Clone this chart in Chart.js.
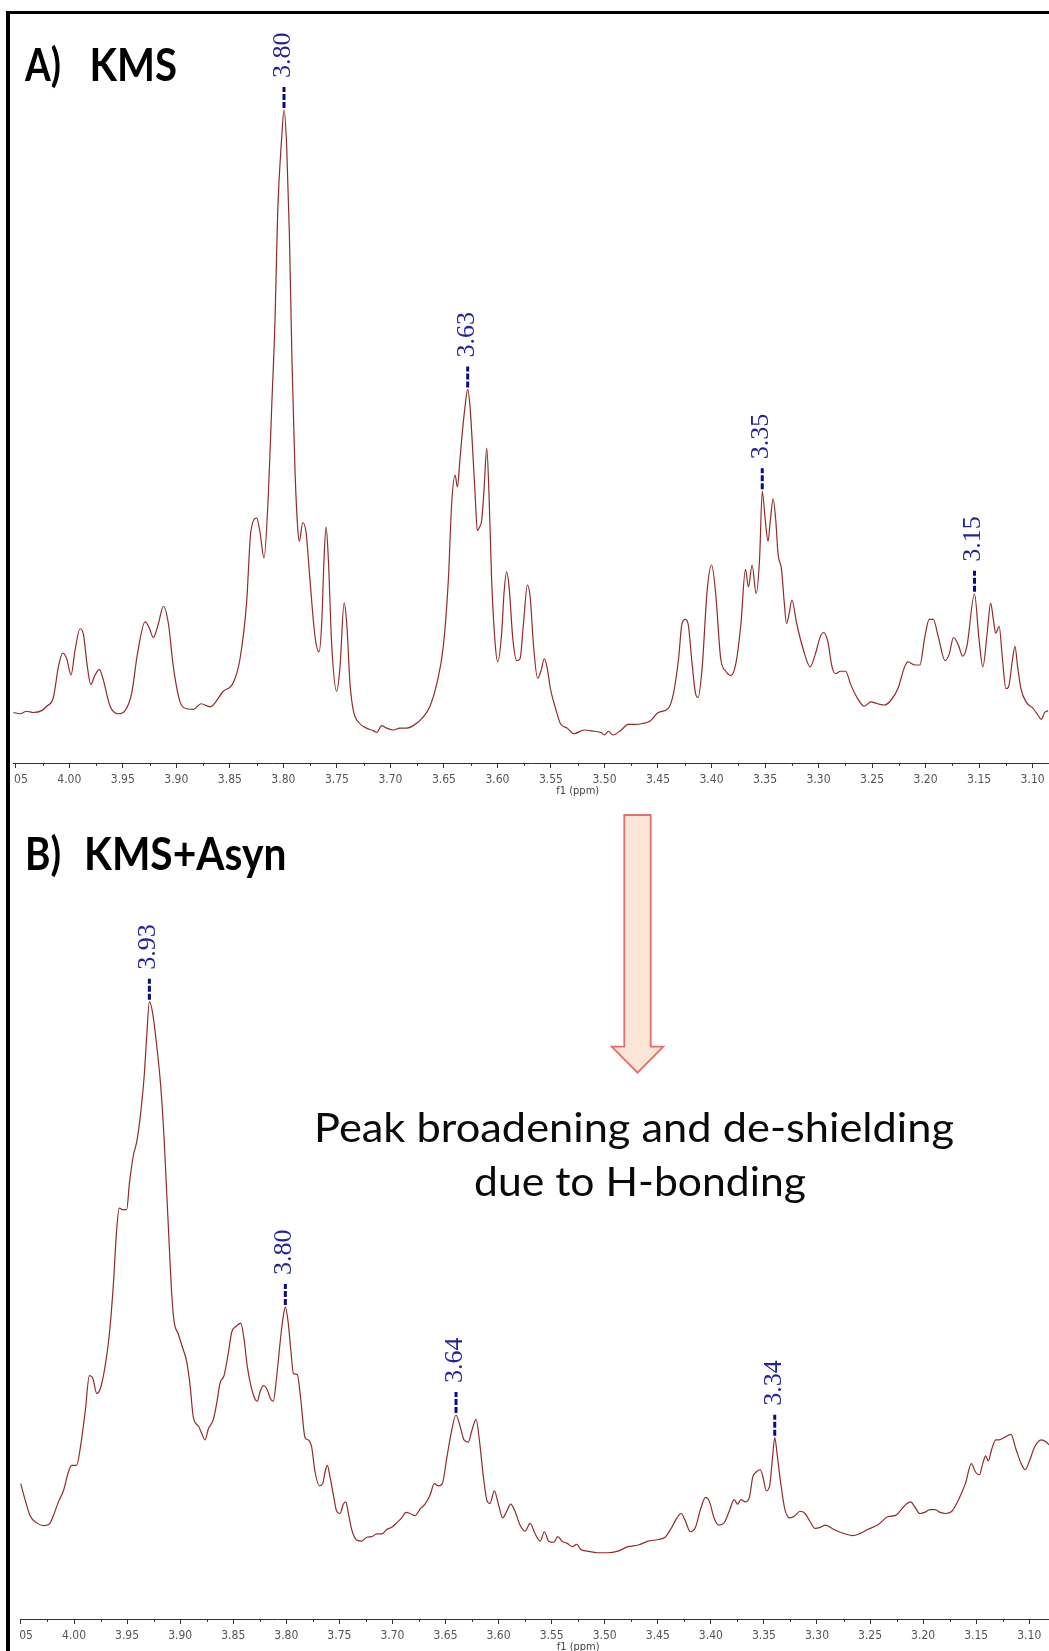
<!DOCTYPE html>
<html><head><meta charset="utf-8">
<script src="https://cdn.jsdelivr.net/npm/chart.js@4.4.0/dist/chart.umd.min.js"></script>
<style>
html,body{margin:0;padding:0;width:1049px;height:1651px;overflow:hidden;background:#fff;}
#frame{position:absolute;left:6px;top:11px;width:1100px;height:1700px;border-top:3px solid #000;border-left:4px solid #000;box-sizing:border-box;}
#cA{position:absolute;left:13px;top:13px;}
#cB{position:absolute;left:20px;top:800px;}
</style></head><body>
<div id="frame"></div>
<canvas id="cA" width="1036" height="790"></canvas>
<canvas id="cB" width="1029" height="859"></canvas>
<script>
// ---------- data (chemical shift in ppm, relative intensity) ----------
const ppmA=[4.0522,4.0460,4.0398,4.0336,4.0258,4.0211,4.0149,4.0102,4.0062,4.0024,3.9984,3.9946,3.9900,3.9868,3.9831,3.9800,3.9759,3.9719,3.9682,3.9619,3.9542,3.9479,3.9417,3.9364,3.9292,3.9252,3.9215,3.9168,3.9121,3.9074,3.9028,3.8965,3.8903,3.8841,3.8769,3.8685,3.8561,3.8467,3.8405,3.8343,3.8305,3.8249,3.8218,3.8181,3.8140,3.8109,3.8078,3.8053,3.8016,3.7994,3.7969,3.7944,3.7919,3.7891,3.7866,3.7851,3.7819,3.7788,3.7751,3.7704,3.7667,3.7642,3.7620,3.7601,3.7580,3.7548,3.7502,3.7471,3.7433,3.7408,3.7377,3.7346,3.7284,3.7222,3.7159,3.7128,3.7081,3.7035,3.6972,3.6910,3.6848,3.6786,3.6692,3.6630,3.6568,3.6505,3.6459,3.6427,3.6396,3.6374,3.6350,3.6325,3.6303,3.6278,3.6256,3.6231,3.6209,3.6188,3.6169,3.6147,3.6125,3.6100,3.6079,3.6054,3.6023,3.5998,3.5960,3.5939,3.5914,3.5889,3.5858,3.5820,3.5789,3.5757,3.5720,3.5694,3.5663,3.5625,3.5594,3.5562,3.5537,3.5505,3.5458,3.5411,3.5348,3.5285,3.5190,3.5096,3.5033,3.5001,3.4963,3.4922,3.4843,3.4780,3.4717,3.4654,3.4576,3.4497,3.4402,3.4355,3.4308,3.4276,3.4245,3.4219,3.4182,3.4150,3.4125,3.4087,3.4040,3.3999,3.3961,3.3914,3.3866,3.3819,3.3772,3.3725,3.3683,3.3655,3.3621,3.3583,3.3551,3.3526,3.3498,3.3472,3.3450,3.3425,3.3400,3.3378,3.3346,3.3321,3.3299,3.3274,3.3249,3.3204,3.3141,3.3078,3.3031,3.2984,3.2952,3.2914,3.2874,3.2842,3.2795,3.2747,3.2700,3.2637,3.2574,3.2511,3.2448,3.2385,3.2322,3.2259,3.2196,3.2164,3.2101,3.2054,3.2007,3.1966,3.1928,3.1881,3.1818,3.1780,3.1739,3.1692,3.1654,3.1613,3.1543,3.1503,3.1465,3.1424,3.1392,3.1367,3.1345,3.1313,3.1282,3.1250,3.1225,3.1187,3.1165,3.1140,3.1109,3.1061,3.0998,3.0951,3.0919,3.0888,3.0856];
const intA=[3.6,3.4,3.8,3.6,3.9,4.6,6.0,10.9,13.1,12.2,9.6,13.6,17.0,16.1,10.9,8.1,9.6,10.5,8.8,4.6,3.4,3.9,6.7,12.9,18.1,17.1,15.6,17.8,20.6,17.8,10.9,5.3,4.2,4.1,5.0,4.5,7.0,8.4,12.2,21.3,32.4,34.7,32.4,28.3,38.6,52.5,66.4,83.7,95.5,100.0,94.1,80.2,59.4,42.1,33.1,31.0,34.0,32.4,24.7,15.7,13.3,17.8,28.2,33.3,28.2,14.3,7.0,10.9,21.1,17.8,8.1,3.9,1.8,1.1,0.7,0.4,1.5,1.1,0.8,1.1,1.1,1.5,2.9,4.6,8.1,14.3,24.7,37.2,41.6,39.7,44.2,49.0,52.5,55.3,52.5,45.5,38.6,32.7,33.2,34.4,39.3,45.9,38.6,24.7,15.0,11.7,16.4,22.6,26.1,23.3,15.7,11.9,12.2,17.8,24.0,22.0,14.3,9.1,10.2,12.2,10.9,7.4,4.3,1.8,1.1,0.2,0.8,0.6,0.4,0.0,0.6,0.0,0.8,1.7,1.7,1.8,2.2,3.6,4.3,6.7,12.2,17.8,18.5,17.8,11.5,6.7,6.0,10.9,23.3,27.2,22.6,12.2,10.2,9.5,11.5,17.8,26.5,23.7,27.2,22.6,28.2,39.0,34.4,31.0,34.4,37.8,34.4,28.9,26.5,21.3,17.8,19.5,21.6,17.8,13.6,10.9,12.9,15.7,16.4,15.0,10.9,9.8,10.2,10.2,8.1,5.9,4.6,5.3,5.0,4.8,5.6,7.4,10.9,11.7,11.2,11.2,15.7,18.5,18.5,15.7,11.9,12.9,15.6,14.3,12.6,14.3,22.6,15.7,10.9,16.4,21.1,18.5,16.3,17.4,12.2,7.4,7.7,12.2,14.2,10.9,7.4,5.3,4.3,3.2,2.5,3.6,3.9];

const ppmB=[4.0502,4.0461,4.0414,4.0352,4.0289,4.0232,4.0195,4.0147,4.0100,4.0053,4.0022,3.9975,3.9943,3.9896,3.9855,3.9824,3.9786,3.9755,3.9708,3.9667,3.9629,3.9598,3.9573,3.9541,3.9504,3.9478,3.9441,3.9409,3.9378,3.9340,3.9315,3.9290,3.9259,3.9221,3.9183,3.9152,3.9127,3.9102,3.9080,3.9058,3.9017,3.8976,3.8938,3.8907,3.8876,3.8828,3.8797,3.8766,3.8734,3.8687,3.8656,3.8624,3.8587,3.8546,3.8514,3.8474,3.8429,3.8398,3.8367,3.8335,3.8295,3.8273,3.8247,3.8216,3.8185,3.8147,3.8122,3.8090,3.8050,3.8028,3.8009,3.7984,3.7959,3.7933,3.7896,3.7864,3.7823,3.7792,3.7761,3.7729,3.7688,3.7657,3.7635,3.7613,3.7588,3.7556,3.7525,3.7494,3.7462,3.7440,3.7415,3.7384,3.7337,3.7290,3.7242,3.7195,3.7148,3.7101,3.7054,3.7007,3.6960,3.6913,3.6872,3.6834,3.6787,3.6740,3.6693,3.6646,3.6605,3.6567,3.6530,3.6489,3.6451,3.6401,3.6363,3.6326,3.6285,3.6253,3.6212,3.6181,3.6143,3.6112,3.6081,3.6040,3.6002,3.5961,3.5923,3.5886,3.5845,3.5798,3.5750,3.5703,3.5655,3.5607,3.5569,3.5528,3.5480,3.5442,3.5401,3.5353,3.5305,3.5264,3.5226,3.5162,3.5067,3.4972,3.4876,3.4781,3.4685,3.4590,3.4495,3.4431,3.4368,3.4320,3.4279,3.4241,3.4193,3.4145,3.4097,3.4050,3.4012,3.3970,3.3923,3.3875,3.3827,3.3780,3.3748,3.3716,3.3675,3.3637,3.3605,3.3573,3.3535,3.3509,3.3478,3.3446,3.3420,3.3398,3.3376,3.3344,3.3303,3.3255,3.3207,3.3160,3.3112,3.3064,3.3017,3.2969,3.2921,3.2858,3.2794,3.2731,3.2667,3.2604,3.2524,3.2429,3.2333,3.2254,3.2206,3.2158,3.2117,3.2079,3.2031,3.1984,3.1936,3.1888,3.1841,3.1787,3.1729,3.1666,3.1602,3.1545,3.1507,3.1469,3.1437,3.1411,3.1386,3.1354,3.1316,3.1284,3.1237,3.1173,3.1125,3.1078,3.1040,3.0998,3.0950,3.0887,3.0840,3.0814];
const intB=[12.9,10.0,7.1,5.8,5.3,5.6,7.1,9.6,11.6,15.0,16.2,16.2,19.1,25.7,32.4,32.0,29.2,29.9,34.0,39.9,49.0,58.9,62.7,62.4,62.4,67.2,72.2,74.7,78.9,86.3,93.8,100.0,97.9,92.1,84.7,75.5,65.6,55.6,47.3,42.3,39.9,37.4,34.9,30.7,24.9,23.3,22.0,20.8,22.8,24.5,27.4,31.1,32.4,36.5,40.3,41.3,41.9,39.0,34.0,30.7,28.2,27.8,29.5,30.6,30.1,28.2,27.8,32.4,39.9,43.2,44.8,42.3,37.4,32.8,32.6,28.2,21.2,20.8,19.5,15.0,12.5,12.9,15.0,16.2,14.1,10.8,7.9,7.5,9.2,9.6,7.5,4.6,2.7,2.5,3.2,3.3,3.8,3.8,4.6,5.0,5.8,6.7,7.7,7.5,7.1,8.3,9.2,10.8,12.9,12.5,12.9,17.4,21.6,25.3,23.3,20.8,20.4,22.4,24.5,20.8,14.1,10.0,9.3,11.6,9.2,6.7,7.9,9.2,7.9,5.4,4.3,5.7,3.8,2.5,4.2,2.5,2.3,3.3,2.5,2.1,1.5,1.9,1.0,0.7,0.4,0.4,0.7,1.5,1.8,2.5,2.8,3.2,5.0,6.7,7.5,6.2,4.2,5.0,8.3,10.4,9.6,6.7,5.4,5.8,7.9,10.0,9.2,10.0,9.6,10.4,14.1,15.0,15.4,14.1,11.6,12.5,17.4,21.2,18.3,13.3,8.3,6.7,7.1,7.9,7.5,6.0,4.8,5.0,5.4,4.8,4.2,3.8,3.5,3.8,4.6,5.4,6.9,7.2,8.2,9.2,9.6,8.7,7.5,7.7,8.2,8.2,7.7,7.5,7.9,10.0,12.9,16.5,15.0,14.5,16.6,17.9,17.0,19.1,20.8,20.8,21.2,21.8,19.1,16.6,15.4,17.0,19.5,20.8,20.4,19.9];

// labelled peak shifts
const peaksA=['3.80','3.63','3.35','3.15'];
const peaksB=['3.93','3.80','3.64','3.34'];
// axis tick settings
const majorStep=0.05, minorStep=0.025;
const axisTitle='f1 (ppm)';
const titleA=['A)','KMS'];
const titleB=['B)','KMS+Asyn'];
const caption=['Peak broadening and de-shielding','due to H-bonding'];

// ---------- helpers ----------
const TICK_FONT="'DejaVu Sans Condensed','DejaVu Sans',sans-serif";
function fitText(ctx,txt,x,y,w,font,align,color){
  ctx.save();ctx.font=font;ctx.fillStyle=color||'#000';
  ctx.textAlign='left';ctx.textBaseline='alphabetic';
  const m=ctx.measureText(txt).width;const s=w/m;
  const left=align==='center'?x-w/2:x;
  ctx.translate(left,y);ctx.scale(s,1);ctx.fillText(txt,0,0);ctx.restore();
}
function decor(extra){
  return {id:'decor',afterDraw(chart){
    const ctx=chart.ctx, xs=chart.scales.x, ys=chart.scales.y;
    const yb=chart.chartArea.bottom;
    // minor ticks
    ctx.save();ctx.strokeStyle='#333';ctx.lineWidth=1;
    const k0=Math.floor(xs.min/majorStep)-1,k1=Math.ceil(xs.max/majorStep)+1;
    for(let k=k0;k<=k1;k++){
      const v=k*majorStep+minorStep;
      if(v<xs.min||v>xs.max)continue;
      const px=Math.round(xs.getPixelForValue(v))+0.5;
      ctx.beginPath();ctx.moveTo(px,yb);ctx.lineTo(px,yb+3);ctx.stroke();
    }
    ctx.restore();
    // axis title
    ctx.save();ctx.font="11px "+TICK_FONT;ctx.fillStyle='#444';ctx.textAlign='center';ctx.textBaseline='middle';
    ctx.fillText(axisTitle,xs.getPixelForValue(3.525),yb+28);ctx.restore();
    // peak labels
    const d=chart.data.datasets[0].data;
    chart.$peaks.forEach(lbl=>{
      const v=parseFloat(lbl);let best=null;
      d.forEach(p=>{if(Math.abs(p.x-v)<0.006&&(!best||p.y>best.y))best=p;});
      if(!best)return;
      const px=xs.getPixelForValue(best.x),py=ys.getPixelForValue(best.y);
      ctx.save();ctx.strokeStyle='#0a0a8c';ctx.lineWidth=3;ctx.setLineDash([6,2]);
      ctx.beginPath();ctx.moveTo(px,py-2);ctx.lineTo(px,py-23);ctx.stroke();ctx.restore();
      ctx.save();ctx.translate(px-1,py-32);ctx.rotate(-Math.PI/2);
      ctx.font="26px 'Liberation Serif','Times New Roman',serif";ctx.fillStyle='#24249a';
      ctx.textAlign='left';ctx.textBaseline='middle';ctx.fillText(lbl,0,0);ctx.restore();
    });
    extra(ctx,chart);
  }};
}
function makeChart(id,ppm,inten,xr,yr,peaks,extra){
  const data=ppm.map((p,i)=>({x:p,y:inten[i]}));
  const ch=new Chart(document.getElementById(id),{
    type:'line',
    data:{datasets:[{data,borderColor:'#922b2b',borderWidth:1.2,pointRadius:0,cubicInterpolationMode:'monotone',fill:false}]},
    options:{
      responsive:false,animation:false,devicePixelRatio:1,events:[],
      layout:{padding:0},
      plugins:{legend:{display:false},tooltip:{enabled:false}},
      scales:{
        x:{type:'linear',reverse:true,min:xr[0],max:xr[1],
          afterFit(s){s.height=40;s.paddingLeft=0;s.paddingRight=0;},
          border:{display:true,color:'#333',width:1},
          grid:{display:true,drawOnChartArea:false,drawTicks:true,tickLength:5,color:'#333',tickColor:'#333'},
          ticks:{stepSize:majorStep,includeBounds:false,autoSkip:false,maxRotation:0,minRotation:0,padding:5,color:'#555',
            font:{family:TICK_FONT,size:12},callback:v=>Number(v).toFixed(2)}},
        y:{display:false,min:yr[0],max:yr[1]}
      }
    },
    plugins:[{id:'pk',beforeInit(c){c.$peaks=peaks;}},decor(extra)]
  });
  return ch;
}

// Panel A
makeChart('cA',ppmA,intA,[3.0847,4.0526],[-4.48,115.52],peaksA,(ctx)=>{
  const f="bold 45px Lato,'Open Sans',sans-serif";
  fitText(ctx,titleA[0],12,68,36,f,'left','#000');
  fitText(ctx,titleA[1],76.5,68,87.5,f,'left','#000');
});
// Panel B
makeChart('cB',ppmB,intB,[3.0814,4.0509],[-11.57,136.45],peaksB,(ctx)=>{
  const f="bold 45px Lato,'Open Sans',sans-serif";
  fitText(ctx,titleB[0],5,69.5,36,f,'left','#000');
  fitText(ctx,titleB[1],64,69.5,202.5,f,'left','#000');
  // arrow
  ctx.save();ctx.beginPath();
  ctx.moveTo(604.3,15);ctx.lineTo(630.7,15);ctx.lineTo(630.7,246.7);ctx.lineTo(643.3,246.7);
  ctx.lineTo(617.5,272.7);ctx.lineTo(591.7,246.7);ctx.lineTo(604.3,246.7);ctx.closePath();
  ctx.fillStyle='#fbe5d6';ctx.fill();ctx.strokeStyle='#e07070';ctx.lineWidth=1.8;ctx.stroke();ctx.restore();
  const cf="41px Lato,'Open Sans',sans-serif";
  fitText(ctx,caption[0],614,341.7,640,cf,'center','#0a0a0a');
  fitText(ctx,caption[1],620,396,332,cf,'center','#0a0a0a');
});
</script>
</body></html>
